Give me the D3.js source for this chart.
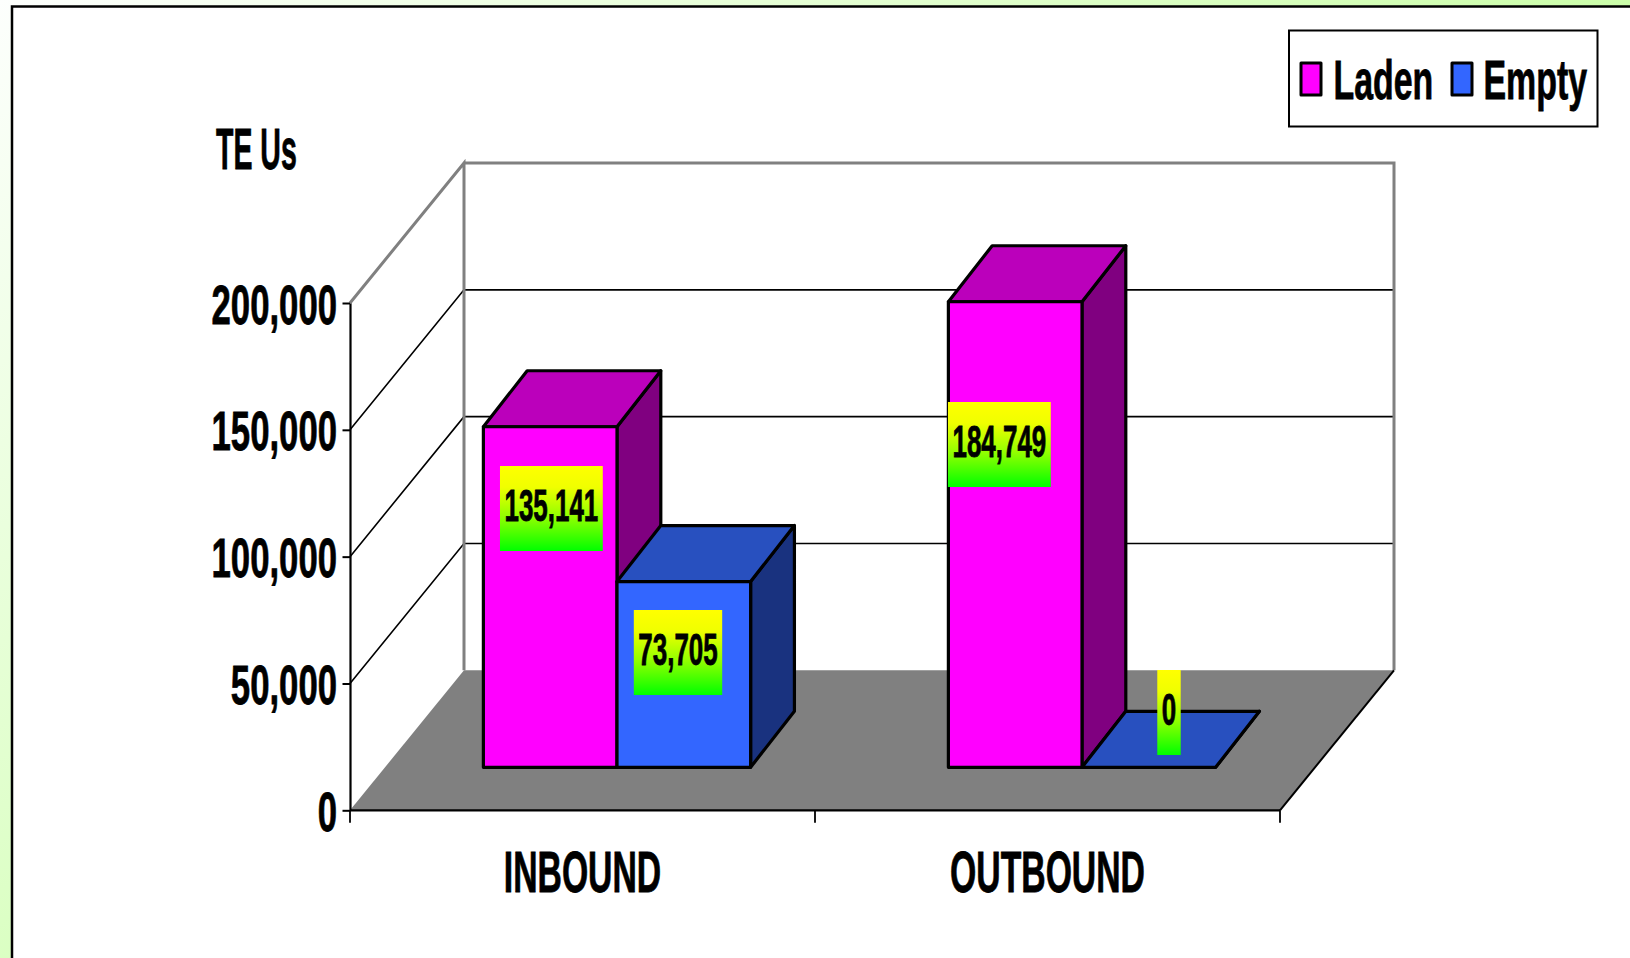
<!DOCTYPE html>
<html>
<head>
<meta charset="utf-8">
<script src="https://cdn.jsdelivr.net/npm/d3@7"></script>
<style>
  html, body { margin: 0; padding: 0; background: #fff; overflow: hidden; }
  svg { display: block; }
  text { font-family: "Liberation Sans", Arial, sans-serif; font-weight: bold; fill: #000; stroke: #000; stroke-width: 0.8px; }
</style>
</head>
<body>
<svg id="chart" width="1630" height="958"></svg>
<script>
// chart data
const categories = ["INBOUND", "OUTBOUND"];
const seriesNames = ["Laden", "Empty"];
const ladenValues = [135141, 184749];
const emptyValues = [73705, 0];
const yTicks = [0, 50000, 100000, 150000, 200000];
const yAxisTitle = "TE Us";

const seriesValues = [ladenValues, emptyValues];

// colours per series: front face, top face, side face
const frontColors = ["#ff00ff", "#3366ff"];
const topColors = ["#bb00bb", "#2850bf"];
const sideColors = ["#800080", "#19327f"];

// the data labels were placed by hand in the original, one [series][category]
const labelShift = [[68, 51], [61, 87]]; // from left edge of the bar
const labelLift = [[258, 322], [114, 54]]; // above the bar's foot

const svg = d3.select("#chart");
const defs = svg.append("defs");

const bgGradient = defs.append("linearGradient")
  .attr("id", "bg-gradient")
  .attr("gradientUnits", "userSpaceOnUse")
  .attr("x1", 0).attr("y1", 0)
  .attr("x2", 674).attr("y2", 803);
bgGradient.append("stop").attr("offset", "0%").attr("stop-color", "#fdfffd");
bgGradient.append("stop").attr("offset", "100%").attr("stop-color", "#ccffaa");

const labelGradient = defs.append("linearGradient")
  .attr("id", "label-gradient")
  .attr("x1", "0%").attr("y1", "0%")
  .attr("x2", "0%").attr("y2", "100%");
labelGradient.append("stop").attr("offset", "0%").attr("stop-color", "#ffff00");
labelGradient.append("stop").attr("offset", "25%").attr("stop-color", "#f0ff00");
labelGradient.append("stop").attr("offset", "60%").attr("stop-color", "#90ff00");
labelGradient.append("stop").attr("offset", "100%").attr("stop-color", "#00ff00");

// page background and white panel
svg.append("rect").attr("width", 1630).attr("height", 958).attr("fill", "url(#bg-gradient)");
svg.append("rect")
  .attr("x", 12).attr("y", 6.5)
  .attr("width", 1630).attr("height", 970)
  .attr("fill", "#fff").attr("stroke", "#000").attr("stroke-width", 2.5);

// scales
const y = d3.scaleLinear().domain([0, 200000]).range([810.3, 303]);
const xBand = d3.scaleBand().domain(categories).range([350, 1280]);
const xSeries = d3.scaleBand().domain(seriesNames).range([0, xBand.bandwidth()]).paddingOuter(0.74);
// bars stand further back on the floor, so they come out a little shorter
const barHeight = d3.scaleLinear().domain([0, 200000]).range([0, 504]);

// depth of the box and of the bars standing on its floor
const depthX = 114, depthY = 140;
const barInsetX = 34.5, barInsetY = 43;
const barDepthX = 43.8, barDepthY = 56;

const poly = pts => pts.map(p => p.join(",")).join(" ");

// floor
const x0 = xBand.range()[0], x1 = xBand.range()[1], base = y(0);
svg.append("polygon")
  .attr("points", poly([[x0, base], [x1, base], [x1 + depthX, base - depthY], [x0 + depthX, base - depthY]]))
  .attr("fill", "#808080");

// gridlines on the side and back wall
const inner = yTicks.filter(d => d > 0 && d < 200000);
svg.selectAll(".grid").data(inner).enter().append("polyline")
  .attr("class", "grid")
  .attr("points", d => poly([[x0, y(d)], [x0 + depthX, y(d) - depthY], [x1 + depthX, y(d) - depthY]]))
  .attr("fill", "none").attr("stroke", "#000").attr("stroke-width", 1.6);

// wall outline
const wallTop = y(200000);
svg.append("polyline")
  .attr("points", poly([[x0 + depthX, base - depthY], [x0 + depthX, wallTop - depthY], [x0, wallTop]]))
  .attr("fill", "none").attr("stroke", "#808080").attr("stroke-width", 3);
svg.append("polyline")
  .attr("points", poly([[x0 + depthX, wallTop - depthY], [x1 + depthX, wallTop - depthY], [x1 + depthX, base - depthY]]))
  .attr("fill", "none").attr("stroke", "#808080").attr("stroke-width", 3);

// floor right edge
svg.append("line")
  .attr("x1", x1).attr("y1", base)
  .attr("x2", x1 + depthX).attr("y2", base - depthY)
  .attr("stroke", "#000").attr("stroke-width", 2);

// squeeze text sideways, the original font is very narrow
function narrow(sel, x, yPos, sx) {
  sel.attr("transform", `translate(${x},${yPos}) scale(${sx},1)`);
  return sel;
}

// bars
const barData = [];
categories.forEach((c, ci) => {
  seriesNames.forEach((s, si) => {
    barData.push({ cat: c, series: s, ci: ci, si: si, value: seriesValues[si][ci] });
  });
});

const barLeft = d => xBand(d.cat) + xSeries(d.series) + barInsetX;
const barFoot = base - barInsetY;

const bars = svg.selectAll(".bar").data(barData).enter().append("g").attr("class", "bar")
  .attr("stroke", "#000").attr("stroke-width", 3.2).attr("stroke-linejoin", "round");

bars.append("polygon") // side
  .attr("points", d => {
    const l = barLeft(d) + xSeries.bandwidth(), t = barFoot - barHeight(d.value);
    return poly([[l, t], [l + barDepthX, t - barDepthY], [l + barDepthX, barFoot - barDepthY], [l, barFoot]]);
  })
  .attr("fill", d => sideColors[d.si]);

bars.append("polygon") // top
  .attr("points", d => {
    const l = barLeft(d), r = l + xSeries.bandwidth(), t = barFoot - barHeight(d.value);
    return poly([[l, t], [l + barDepthX, t - barDepthY], [r + barDepthX, t - barDepthY], [r, t]]);
  })
  .attr("fill", d => topColors[d.si]);

bars.append("rect") // front
  .attr("x", barLeft)
  .attr("y", d => barFoot - barHeight(d.value))
  .attr("width", xSeries.bandwidth())
  .attr("height", d => barHeight(d.value))
  .attr("fill", d => frontColors[d.si]);

// data labels
const fmt = d3.format(",");
const labels = svg.selectAll(".value-label").data(barData).enter().append("g").attr("class", "value-label");
labels.each(function (d) {
  const g = d3.select(this);
  const cx = barLeft(d) + labelShift[d.si][d.ci];
  const cy = barFoot - 0.8 - labelLift[d.si][d.ci];
  const rect = g.append("rect").attr("fill", "url(#label-gradient)");
  const t = g.append("text")
    .attr("text-anchor", "middle")
    .attr("font-size", 44)
    .text(fmt(d.value));
  narrow(t, cx, cy + 12.5, 0.59);
  const w = t.node().getComputedTextLength() * 0.59 + 9;
  rect.attr("x", cx - w / 2).attr("y", cy - 42.5).attr("width", w).attr("height", 85);
});

// y axis
const yAxis = d3.axisLeft(y).tickValues(yTicks).tickFormat(fmt).tickSize(7.5).tickSizeOuter(0);
const yG = svg.append("g").attr("transform", `translate(${x0},0)`).call(yAxis);
yG.select(".domain").attr("stroke", "#000").attr("stroke-width", 2.2);
yG.selectAll(".tick line").attr("stroke", "#000").attr("stroke-width", 2);
yG.selectAll(".tick text")
  .attr("font-size", 56)
  .attr("x", -13 / 0.62)
  .attr("dy", "0.36em")
  .attr("transform", "scale(0.62,1)");

narrow(svg.append("text").attr("font-size", 57).text(yAxisTitle), 216, 169, 0.5);

// x axis, ticks sit on the band edges
svg.append("line")
  .attr("x1", x0).attr("y1", base).attr("x2", x1).attr("y2", base)
  .attr("stroke", "#000").attr("stroke-width", 2.2);
const xTicks = categories.map(c => xBand(c)).concat([x1]);
svg.selectAll(".x-tick").data(xTicks).enter().append("line")
  .attr("class", "x-tick")
  .attr("x1", d => d).attr("x2", d => d)
  .attr("y1", base).attr("y2", base + 12.5)
  .attr("stroke", "#000").attr("stroke-width", 1.8);
svg.selectAll(".x-label").data(categories).enter().append("text")
  .attr("class", "x-label")
  .attr("text-anchor", "middle")
  .attr("font-size", 57)
  .text(d => d)
  .each(function (d) {
    narrow(d3.select(this), xBand(d) + xBand.bandwidth() / 2, 891.5, 0.592);
  });

// legend
svg.append("rect")
  .attr("x", 1289).attr("y", 30.5)
  .attr("width", 308.5).attr("height", 96)
  .attr("fill", "#fff").attr("stroke", "#000").attr("stroke-width", 2);
const legendX = [1301, 1452];
const legend = svg.selectAll(".legend-item").data(seriesNames).enter().append("g").attr("class", "legend-item");
legend.append("rect")
  .attr("x", (d, i) => legendX[i]).attr("y", 63)
  .attr("width", 20).attr("height", 32)
  .attr("fill", (d, i) => frontColors[i])
  .attr("stroke", "#000").attr("stroke-width", 3).attr("stroke-linejoin", "round");
legend.append("text")
  .attr("font-size", 56)
  .text(d => d)
  .each(function (d, i) {
    narrow(d3.select(this), legendX[i] + 32.5 - i, 98.5, 0.605);
  });
</script>
</body>
</html>
